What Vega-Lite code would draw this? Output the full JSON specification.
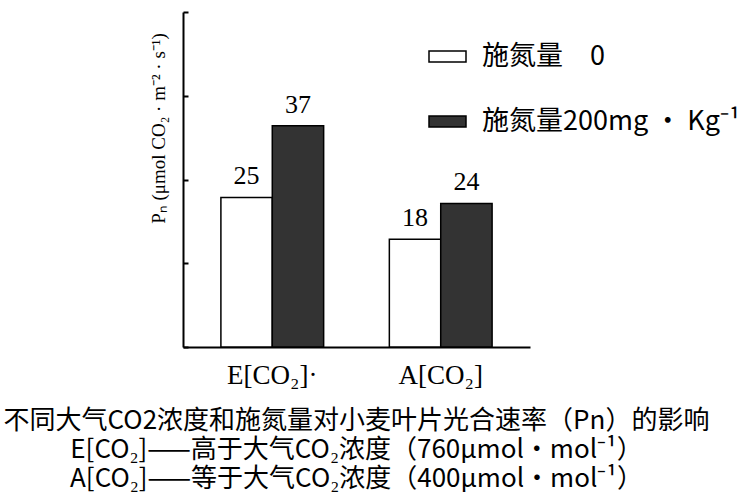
{
  "$schema": "https://vega.github.io/schema/vega-lite/v6.json",
  "width": 347,
  "height": 335,
  "autosize": {"type": "none"},
  "padding": {"left": 183, "top": 12, "right": 220, "bottom": 153},
  "background": "white",
  "config": {"view": {"stroke": null}},
  "title": {
    "text": ["不同大气CO2浓度和施氮量对小麦叶片光合速率（Pn）的影响", "E[CO₂]——高于大气CO₂浓度（760μmol·mol⁻¹）", "A[CO₂]——等于大气CO₂浓度（400μmol·mol⁻¹）"],
    "orient": "bottom",
    "anchor": "middle",
    "frame": "group",
    "font": "Noto Sans CJK SC",
    "fontSize": 26,
    "fontWeight": "normal",
    "lineHeight": 29,
    "offset": 20,
    "color": "black"
  },
  "data": {
    "values": [
      {"group": "E[CO₂]·", "n": "施氮量　0", "pn": 25},
      {"group": "E[CO₂]·", "n": "施氮量200mg · Kg⁻¹", "pn": 37},
      {"group": "A[CO₂]", "n": "施氮量　0", "pn": 18},
      {"group": "A[CO₂]", "n": "施氮量200mg · Kg⁻¹", "pn": 24}
    ]
  },
  "encoding": {
    "x": {
      "field": "group",
      "type": "nominal",
      "sort": ["E[CO₂]·", "A[CO₂]"],
      "scale": {"paddingInner": 0.39, "paddingOuter": 0.225},
      "axis": {
        "title": null,
        "labelAngle": 0,
        "ticks": false,
        "domainColor": "black",
        "domainWidth": 2,
        "labelFont": "Liberation Serif",
        "labelFontSize": 27,
        "labelColor": "black",
        "labelPadding": 15
      }
    },
    "xOffset": {"field": "n", "type": "nominal", "sort": ["施氮量　0", "施氮量200mg · Kg⁻¹"]},
    "y": {
      "field": "pn",
      "type": "quantitative",
      "scale": {"domain": [0, 56]},
      "axis": {
        "values": [0, 14, 28, 42, 56],
        "labels": false,
        "grid": false,
        "tickSize": -5,
        "tickColor": "black",
        "tickWidth": 2,
        "domainColor": "black",
        "domainWidth": 2,
        "title": "Pₙ (μmol CO₂ · m⁻² · s⁻¹)",
        "titleFont": "Liberation Serif",
        "titleFontSize": 19,
        "titleFontWeight": "normal",
        "titleColor": "black",
        "titleX": -25,
        "titleY": 116,
        "titleAngle": -90,
        "titleAlign": "center",
        "titleBaseline": "middle"
      }
    }
  },
  "layer": [
    {
      "mark": {"type": "bar", "stroke": "black", "strokeWidth": 1.5},
      "encoding": {
        "fill": {
          "field": "n",
          "type": "nominal",
          "sort": ["施氮量　0", "施氮量200mg · Kg⁻¹"],
          "scale": {"range": ["white", "#333333"]},
          "legend": {
            "title": null,
            "orient": "none",
            "legendX": 245,
            "legendY": 25,
            "symbolType": "M-1,-0.3H1V0.3H-1Z",
            "symbolSize": 1369,
            "symbolStrokeColor": "black",
            "symbolStrokeWidth": 1.5,
            "labelFont": "Noto Sans CJK SC",
            "labelFontSize": 27,
            "labelColor": "black",
            "labelOffset": 15,
            "labelLimit": 400,
            "rowPadding": 32
          }
        }
      }
    },
    {
      "mark": {"type": "text", "baseline": "bottom", "dy": -8, "font": "Liberation Serif", "fontSize": 26, "color": "black"},
      "encoding": {"text": {"field": "pn", "type": "quantitative"}}
    }
  ]
}
